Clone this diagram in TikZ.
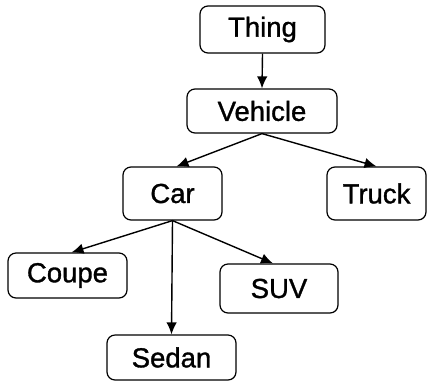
\documentclass[tikz,border=0pt]{standalone}
\usepackage{fontspec}
\setmainfont{Liberation Sans}
\newfontfamily\boxfont[FakeBold=1.2]{Liberation Sans}
\usetikzlibrary{arrows.meta}
\begin{document}
\begin{tikzpicture}[x=1pt,y=-1pt,
  box/.style={draw=black, line width=1.2pt, rounded corners=8pt, fill=white,
    inner sep=0pt, font=\boxfont\fontsize{27.5}{31}\selectfont},
  link/.style={line width=1.4pt, -{Latex[length=12pt,width=10.5pt]}}]
\useasboundingbox (0,0) rectangle (427,381);
\node[box, minimum width=125pt, minimum height=47pt] (thing) at (262.5,29.5) {Thing};
\node[box, minimum width=150pt, minimum height=44pt] (vehicle) at (262,111) {Vehicle};
\node[box, minimum width=99pt, minimum height=53pt] (car) at (172.5,193.5) {Car};
\node[box, minimum width=99pt, minimum height=53pt] (truck) at (376.5,193.5) {Truck};
\node[box, minimum width=119pt, minimum height=45pt] (coupe) at (67.5,275.5) {Coupe};
\node[box, minimum width=118pt, minimum height=49pt] (suv) at (279,288.5) {SUV};
\node[box, minimum width=129pt, minimum height=45pt] (sedan) at (171.5,357.5) {Sedan};
\draw[link] (thing.south) -- (vehicle.north);
\draw[link] (vehicle.south) -- ([xshift=4pt]car.north);
\draw[link] (vehicle.south) -- (truck.north);
\draw[link] (car.south) -- ([xshift=4pt]coupe.north);
\draw[link] (car.south) -- (sedan.north);
\draw[link] (car.south) -- ([xshift=-6pt]suv.north);
\end{tikzpicture}
\end{document}
